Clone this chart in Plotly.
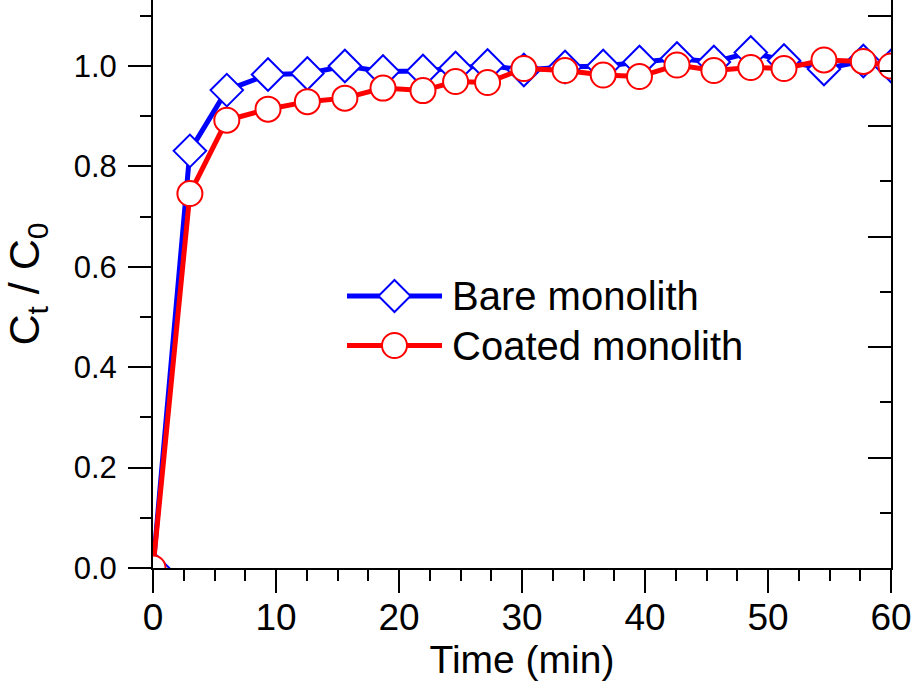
import plotly.graph_objects as go

# ---- data ----
time_min = [0, 3.0, 6.0, 9.35, 12.55, 15.6, 18.7, 21.95, 24.6, 27.2, 30.15,
            33.5, 36.6, 39.55, 42.6, 45.6, 48.6, 51.3, 54.55, 57.75, 60]
bare = [0, 0.831, 0.952, 0.983, 0.985, 1.0, 0.989, 0.990, 0.996, 1.001, 0.992,
        0.998, 1.0, 1.008, 1.015, 1.008, 1.027, 1.011, 0.994, 1.010, 1.0]
coated = [0, 0.746, 0.892, 0.914, 0.929, 0.936, 0.956, 0.951, 0.969, 0.967, 0.995,
          0.991, 0.982, 0.979, 1.002, 0.991, 0.997, 0.995, 1.012, 1.009, 1.0]
series_names = ["Bare monolith", "Coated monolith"]
x_ticks = [0, 10, 20, 30, 40, 50, 60]
y_ticks = [0.0, 0.2, 0.4, 0.6, 0.8, 1.0]

FONT = "Arial, Liberation Sans, sans-serif"
BLUE = "#0000FF"
RED = "#FF0000"

W, H = 912, 686
L, R, B, T = 153, 21, 118, 0
PW, PH = W - L - R, H - B - T

fig = go.Figure()
fig.add_trace(go.Scatter(
    x=time_min, y=bare, mode="lines+markers", name=series_names[0],
    line=dict(color=BLUE, width=5),
    marker=dict(symbol="diamond", size=25, color="white",
                line=dict(color=BLUE, width=2)),
    showlegend=False))
fig.add_trace(go.Scatter(
    x=time_min, y=coated, mode="lines+markers", name=series_names[1],
    line=dict(color=RED, width=5),
    marker=dict(symbol="circle", size=25, color="white",
                line=dict(color=RED, width=2)),
    showlegend=False))
# invisible trace to host the mirrored right axis
fig.add_trace(go.Scatter(x=[None], y=[None], yaxis="y2", showlegend=False,
                         hoverinfo="skip"))

fig.update_layout(
    width=W, height=H,
    margin=dict(l=L, r=R, t=T, b=B, pad=0),
    paper_bgcolor="white", plot_bgcolor="white",
    font=dict(family=FONT, color="black"),
    showlegend=False,
    xaxis=dict(
        range=[0, 60], tickvals=x_ticks, ticktext=[str(v) for v in x_ticks],
        ticks="outside", ticklen=23, tickwidth=2, tickcolor="black",
        minor=dict(dtick=2.5, ticks="outside", ticklen=11, tickwidth=2,
                   tickcolor="black", showgrid=False),
        showline=True, linewidth=2, linecolor="black", showgrid=False,
        zeroline=False, tickfont=dict(size=37, family=FONT),
        ticklabelstandoff=-7,
        title=dict(text="Time (min)", font=dict(size=39, family=FONT),
                   standoff=4),
        automargin=False,
    ),
    yaxis=dict(
        range=[0, 568 / 502], tickvals=y_ticks,
        ticktext=[f"{v:.1f}" for v in y_ticks],
        ticks="outside", ticklen=23, tickwidth=2, tickcolor="black",
        minor=dict(dtick=0.1, ticks="outside", ticklen=11, tickwidth=2,
                   tickcolor="black", showgrid=False),
        showline=True, linewidth=2, linecolor="black", showgrid=False,
        zeroline=False, tickfont=dict(size=31, family=FONT),
        ticklabelstandoff=5,
        title=dict(text="C<sub>t</sub> / C<sub>0</sub>",
                   font=dict(size=43, family=FONT), standoff=21),
        automargin=False,
    ),
    yaxis2=dict(
        overlaying="y", side="right", range=[0, 568 / 552.5],
        dtick=0.2, tick0=0, ticks="inside", ticklen=23, tickwidth=2,
        tickcolor="black", showticklabels=False,
        minor=dict(dtick=0.1, ticks="inside", ticklen=11, tickwidth=2,
                   tickcolor="black", showgrid=False),
        showline=True, linewidth=2, linecolor="black", showgrid=False,
        zeroline=False, automargin=False,
    ),
)


def px(xp):
    return (xp - L) / PW


def py(yp):
    return (H - B - yp) / PH


# ---- legend drawn to match the reference's large legend symbols ----
legend_rows = [
    (series_names[0], BLUE, "diamond", 296),
    (series_names[1], RED, "circle", 345.5),
]
for name, col, sym, yc in legend_rows:
    fig.add_shape(type="line", xref="paper", yref="paper",
                  x0=px(347), x1=px(442), y0=py(yc), y1=py(yc),
                  line=dict(color=col, width=5))
    if sym == "diamond":
        fig.add_shape(type="path", xref="paper", yref="paper",
                      xsizemode="pixel", ysizemode="pixel",
                      xanchor=px(394.5), yanchor=py(yc),
                      path="M 0 16 L 16 0 L 0 -16 L -16 0 Z",
                      fillcolor="white", line=dict(color=col, width=2))
    else:
        fig.add_shape(type="circle", xref="paper", yref="paper",
                      xsizemode="pixel", ysizemode="pixel",
                      xanchor=px(394.5), yanchor=py(yc),
                      x0=-12.5, x1=12.5, y0=-12.5, y1=12.5,
                      fillcolor="white", line=dict(color=col, width=2))
    fig.add_annotation(text=name, xref="paper", yref="paper",
                       x=px(450), y=py(yc), xanchor="left", yanchor="middle",
                       showarrow=False, font=dict(size=40, family=FONT,
                                                  color="black"))

fig.write_html("out.html")
